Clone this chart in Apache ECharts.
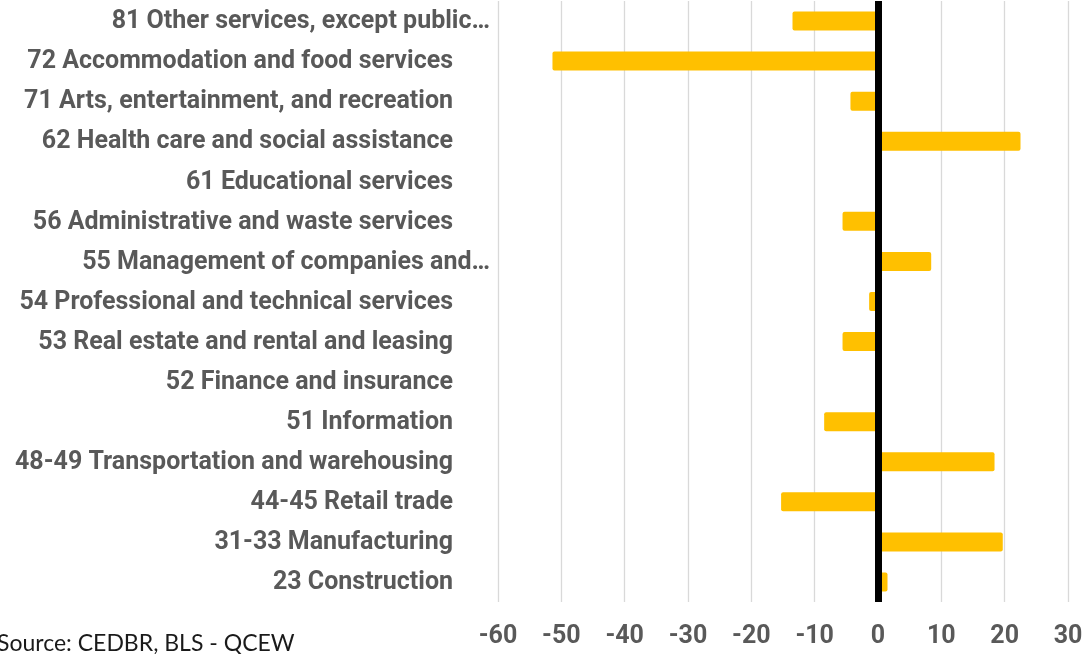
<!DOCTYPE html>
<html>
<head>
<meta charset="utf-8">
<title>Employment change by industry</title>
<script src="https://cdn.jsdelivr.net/npm/echarts@6/dist/echarts.min.js"></script>
<style>
  html, body { margin: 0; padding: 0; background: #fff; }
  #chart { width: 1089px; height: 654px; }
</style>
</head>
<body>
<div id="chart"></div>
<script>
// Industries, listed top to bottom
const industries = [
  '81 Other services, except public…',
  '72 Accommodation and food services',
  '71 Arts, entertainment, and recreation',
  '62 Health care and social assistance',
  '61 Educational services',
  '56 Administrative and waste services',
  '55 Management of companies and…',
  '54 Professional and technical services',
  '53 Real estate and rental and leasing',
  '52 Finance and insurance',
  '51 Information',
  '48-49 Transportation and warehousing',
  '44-45 Retail trade',
  '31-33 Manufacturing',
  '23 Construction'
];

// Change per industry, same order
const changes = [-13.5, -51.4, -4.35, 22.5, 0, -5.6, 8.4, -1.4, -5.6, 0, -8.5, 18.4, -15.3, 19.7, 1.5];

// Value axis ticks
const axisMin = -60;
const axisMax = 30;
const axisStep = 10;

const sourceNote = 'Source: CEDBR, BLS - QCEW';

const chart = echarts.init(document.getElementById('chart'), null, { renderer: 'canvas' });

const labelFont = 'Roboto, "Liberation Sans", sans-serif';

chart.setOption({
  animation: false,
  backgroundColor: '#ffffff',
  grid: { left: 498, right: 21, top: 1, bottom: 52, containLabel: false },
  xAxis: {
    type: 'value',
    min: axisMin,
    max: axisMax,
    interval: axisStep,
    axisLine: { show: false },
    axisTick: { show: false },
    splitLine: { show: true, lineStyle: { color: '#D9D9D9', width: 1.3 } },
    axisLabel: {
      margin: 22,
      color: '#595959',
      fontFamily: labelFont,
      fontWeight: 'bold',
      fontSize: 25
    }
  },
  yAxis: {
    type: 'category',
    data: industries,
    inverse: true,
    axisLine: { show: false },
    axisTick: { show: false },
    splitLine: { show: false },
    axisLabel: {
      margin: 8,
      formatter: function (v) {
        return v.endsWith('…') ? '{t|' + v + '}' : '{t|' + v + '}{s| }';
      },
      rich: {
        t: { color: '#595959', fontFamily: labelFont, fontWeight: 'bold', fontSize: 25, padding: [2, 0, 0, 0] },
        s: { width: 37, fontSize: 25 }
      }
    }
  },
  series: [{
    type: 'bar',
    data: changes,
    barWidth: 19,
    itemStyle: { color: '#FFC000', borderRadius: 2 },
    markLine: {
      silent: true,
      symbol: ['none', 'none'],
      label: { show: false },
      lineStyle: { color: '#000000', width: 7, type: 'solid' },
      data: [{ xAxis: 0 }]
    }
  }],
  graphic: [{
    type: 'text',
    left: -3,
    top: 632,
    style: {
      text: sourceNote,
      fill: '#1a1a1a',
      font: '23px Lato, "Liberation Sans", sans-serif'
    }
  }]
});
</script>
</body>
</html>
